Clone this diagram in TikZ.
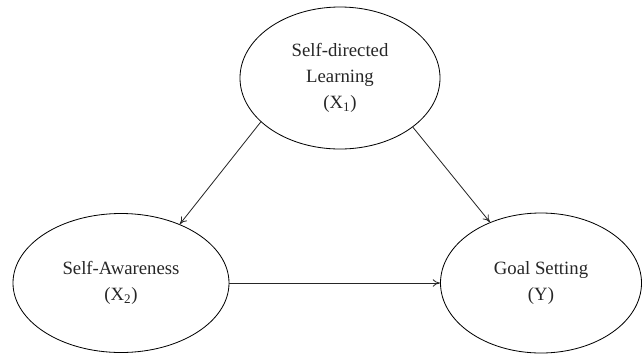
\documentclass[tikz,border=0pt]{standalone}
\usepackage{fontspec}
\setmainfont{Liberation Serif}
\usetikzlibrary{arrows.meta}
\usetikzlibrary{shapes.geometric}
\tikzset{> = {To[length=2.2mm,width=2.2mm]}, color=black}
\tikzset{var/.style={draw, ellipse, line width=.7pt, inner sep=0pt, align=center,
		font=\fontsize{16}{22}\selectfont, text=black!85}}
\tikzset{path/.style={->, line width=.7pt, draw=black!85}}

\begin{document}
\begin{tikzpicture}[x=.03cm, y=-.03cm]
		\useasboundingbox (0,0) rectangle (644,356);
		% variables
		\node[var, minimum width=6cm, minimum height=4.26cm] (x1) at (340,78) {Self-directed\\Learning\\(X\textsubscript{1})};
		\node[var, minimum width=6.48cm, minimum height=4.17cm] (x2) at (121,283) {Self-Awareness\\(X\textsubscript{2})};
		\node[var, minimum width=6.03cm, minimum height=4.2cm] (y) at (541,283) {Goal Setting\\(Y)};
		% paths
		\draw[path] (x1.209)--(x2.45);
		\draw[path] (x1.326)--(y.130);
		\draw[path] (x2.east)--(y.west);
		\end{tikzpicture}
\end{document}
